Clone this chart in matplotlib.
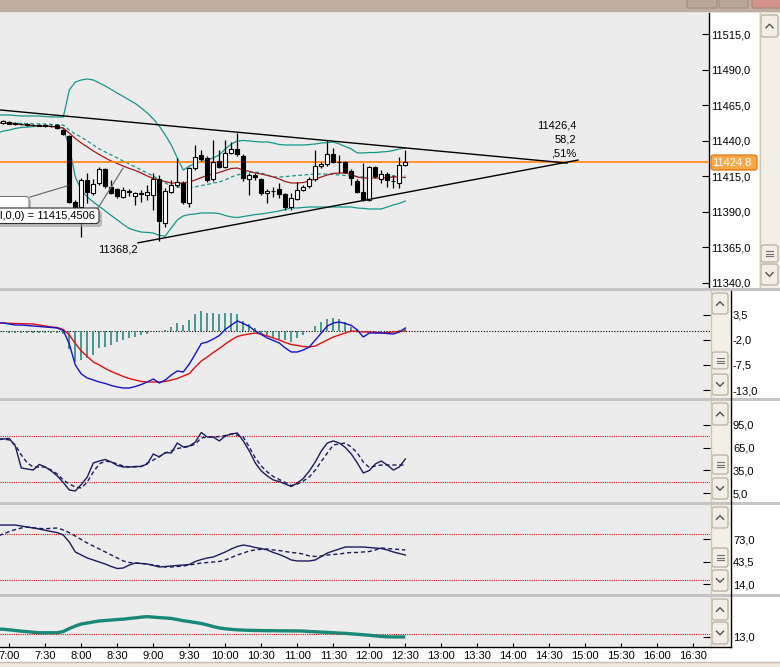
import matplotlib
matplotlib.use("Agg")
import matplotlib.pyplot as plt
from matplotlib.patches import Rectangle, FancyBboxPatch
import numpy as np

plt.rcParams['font.family'] = ['Liberation Sans', 'DejaVu Sans']
FS = 8

# ---------------- data ----------------
# 5-minute bars, minutes after midnight (06:50 ... 12:30)
bar_times = np.arange(410, 751, 5)

open_ = [11452.8, 11452.5, 11453.5, 11452.2, 11451.8, 11451.5, 11451.3, 11451.0, 11450.8, 11450.5, 11451.0,
         11447.5, 11443.3, 11396.9, 11393.4, 11412.4, 11403.3, 11410.3, 11420.1, 11407.5, 11406.1,
         11400.4, 11404.5, 11401.1, 11403.0, 11401.9, 11401.9, 11413.1, 11382.2, 11404.0, 11408.9,
         11410.3, 11396.2, 11420.8, 11430.0, 11427.9, 11413.1, 11425.7, 11421.5, 11431.4, 11434.2,
         11429.3, 11413.1, 11415.9, 11413.1, 11403.3, 11404.9, 11406.1, 11402.6, 11393.4, 11399.0,
         11405.4, 11408.2, 11413.1, 11422.2, 11423.6, 11430.7, 11425.2, 11425.0, 11418.7, 11411.7,
         11404.0, 11398.3, 11421.5, 11413.1, 11416.6, 11411.9, 11410.3, 11422.9]
high = [11454.0, 11454.5, 11454.0, 11453.0, 11452.5, 11452.3, 11452.0, 11451.8, 11451.5, 11451.2, 11451.5,
        11448.5, 11444.0, 11398.0, 11413.5, 11417.3, 11413.1, 11421.5, 11421.0, 11412.4, 11407.0,
        11407.5, 11406.0, 11404.0, 11405.4, 11408.9, 11417.3, 11415.9, 11406.8, 11412.4, 11427.9,
        11411.7, 11421.5, 11437.0, 11433.5, 11429.0, 11440.5, 11433.5, 11440.5, 11439.1, 11445.4,
        11430.5, 11417.0, 11417.0, 11414.0, 11406.0, 11407.5, 11410.3, 11403.5, 11403.3, 11411.0,
        11409.0, 11414.5, 11433.5, 11425.0, 11440.5, 11434.9, 11430.0, 11426.0, 11420.0, 11413.0,
        11424.3, 11422.5, 11422.5, 11419.4, 11418.0, 11415.9, 11428.6, 11433.5]
low = [11452.0, 11451.5, 11451.5, 11451.0, 11451.0, 11450.5, 11450.5, 11450.0, 11449.8, 11449.5, 11448.5,
       11444.0, 11396.5, 11389.0, 11372.3, 11396.2, 11401.9, 11408.9, 11407.0, 11402.5, 11400.0,
       11399.5, 11401.0, 11394.8, 11397.0, 11398.3, 11391.3, 11369.5, 11379.4, 11403.0, 11407.5,
       11395.5, 11393.4, 11419.4, 11426.0, 11411.0, 11412.0, 11420.5, 11420.5, 11430.5, 11429.5,
       11412.0, 11401.9, 11412.5, 11402.0, 11396.2, 11400.4, 11399.7, 11391.3, 11391.3, 11398.0,
       11404.5, 11407.0, 11412.0, 11421.0, 11422.5, 11424.0, 11417.3, 11417.0, 11408.9, 11403.0,
       11397.5, 11397.5, 11414.0, 11410.3, 11407.5, 11406.8, 11406.8, 11422.0]
close = [11453.2, 11454.0, 11452.0, 11451.6, 11451.5, 11451.2, 11451.0, 11450.6, 11450.4, 11450.2, 11448.9,
         11444.7, 11396.9, 11389.9, 11412.4, 11404.0, 11409.6, 11420.1, 11408.2, 11403.3, 11401.1,
         11405.4, 11404.0, 11403.3, 11402.6, 11404.0, 11413.1, 11383.6, 11404.7, 11408.9, 11411.0,
         11396.9, 11420.8, 11428.6, 11427.2, 11412.4, 11425.0, 11421.5, 11431.4, 11434.2, 11430.7,
         11413.8, 11415.9, 11414.5, 11403.3, 11404.7, 11404.5, 11402.6, 11393.4, 11399.7, 11405.4,
         11407.5, 11413.1, 11422.2, 11423.6, 11430.7, 11425.0, 11424.8, 11418.0, 11413.8, 11404.0,
         11398.3, 11421.5, 11415.2, 11416.6, 11412.4, 11411.5, 11422.9, 11424.8]

bb_upper = [11458.1, 11458.1, 11458.1, 11457.7, 11457.4, 11457.4, 11457.4, 11457.4, 11457.0, 11456.7, 11456.7, 11456.7,
            11475.6, 11481.3, 11482.7, 11483.4, 11482.7, 11480.6, 11478.5, 11476.0, 11473.5, 11471.1, 11468.6,
            11466.2, 11463.0, 11459.5, 11455.3, 11450.3, 11444.0, 11437.0, 11427.9, 11419.4, 11422.2, 11424.0,
            11425.4, 11426.4, 11427.9, 11430.0, 11434.2, 11437.7, 11439.8, 11440.2, 11439.8, 11439.4, 11439.1,
            11439.1, 11438.4, 11437.3, 11437.0, 11437.0, 11437.0, 11437.0, 11437.3, 11437.7, 11438.4, 11438.7,
            11439.1, 11437.7, 11435.9, 11434.2, 11431.4, 11431.4, 11431.7, 11431.7, 11432.1, 11432.4, 11433.1,
            11434.2, 11434.9]
bb_middle = [11452.4, 11452.4, 11452.3, 11452.2, 11452.1, 11452.0, 11451.9, 11451.8, 11451.7, 11451.5, 11451.3, 11451.0,
             11447.5, 11444.7, 11442.6, 11439.8, 11437.0, 11434.2, 11432.1, 11430.0, 11427.9, 11425.7, 11423.6,
             11421.5, 11419.4, 11417.3, 11415.2, 11412.4, 11410.3, 11408.2, 11407.5, 11407.1, 11407.1, 11407.5,
             11408.5, 11409.2, 11410.3, 11411.0, 11412.4, 11414.5, 11415.9, 11417.0, 11417.7, 11418.0, 11417.3,
             11415.9, 11414.5, 11414.5, 11414.8, 11415.2, 11415.6, 11415.9, 11416.3, 11416.6, 11416.6, 11416.6,
             11416.3, 11415.9, 11415.6, 11415.2, 11414.8, 11414.5, 11414.5, 11414.5, 11414.8, 11414.8, 11415.2,
             11415.2, 11415.2]
bb_lower = [11445.4, 11446.8, 11447.5, 11448.6, 11449.3, 11449.6, 11450.0, 11450.3, 11450.3, 11450.3, 11449.6, 11448.9,
            11435.6, 11414.5, 11405.4, 11400.4, 11396.9, 11393.8, 11390.6, 11387.4, 11384.3, 11381.1, 11378.3,
            11376.9, 11375.8, 11375.5, 11375.1, 11373.4, 11373.0, 11378.7, 11384.3, 11387.1, 11388.1, 11388.5,
            11389.2, 11389.2, 11389.2, 11388.8, 11387.4, 11386.4, 11386.0, 11386.7, 11387.4, 11388.1, 11388.5,
            11389.2, 11389.9, 11390.6, 11391.7, 11392.7, 11392.7, 11393.1, 11393.4, 11393.4, 11393.4, 11393.4,
            11393.4, 11393.4, 11393.4, 11393.4, 11392.7, 11392.4, 11392.0, 11392.0, 11392.0, 11393.4, 11394.8,
            11395.9, 11397.6]
ema = [11452.8, 11452.5, 11452.1, 11451.7, 11451.4, 11451.0, 11450.7, 11450.3, 11450.3, 11450.0, 11449.6, 11448.9,
       11445.4, 11441.6, 11438.4, 11435.6, 11432.8, 11430.3, 11427.9, 11425.7, 11424.0, 11422.2, 11420.5,
       11419.1, 11417.3, 11415.2, 11413.4, 11412.4, 11411.3, 11410.3, 11410.3, 11410.3, 11411.0, 11412.4,
       11414.1, 11415.6, 11416.6, 11417.7, 11419.1, 11420.5, 11420.8, 11419.4, 11418.4, 11417.3, 11416.6,
       11415.6, 11414.5, 11413.1, 11411.3, 11410.3, 11410.3, 11410.6, 11411.7, 11413.1, 11414.5, 11415.9,
       11417.0, 11417.3, 11417.3, 11416.3, 11414.5, 11413.8, 11413.8, 11413.8, 11413.8, 11414.1, 11414.5,
       11414.5, 11414.1]
last_price = 11424.8

macd = [1.85, 1.74, 1.52, 1.30, 1.30, 1.19, 1.08, 0.97, 0.86, 0.75, 0.64, 0.09,
        -2.88, -7.50, -9.48, -10.36, -10.80, -11.24, -11.57, -12.01, -12.34, -12.56, -12.56,
        -12.23, -11.79, -11.24, -10.58, -11.46, -10.80, -9.70, -8.82, -9.04, -7.28, -5.08,
        -2.77, -2.44, -1.78, -1.01, 0.31, 1.30, 2.18, 1.63, 0.97, -0.02, -0.79,
        -1.56, -2.11, -2.66, -3.76, -4.64, -4.64, -4.20, -3.54, -2.00, -0.46, 1.08,
        1.74, 1.96, 1.63, 1.19, 0.20, -1.34, -0.46, -0.46, -0.46, -0.57, -0.68,
        -0.24, 0.64]
macd_signal = [1.74, 1.74, 1.67, 1.63, 1.59, 1.56, 1.52, 1.30, 1.08, 0.86, 0.75, 0.31,
               -0.90, -2.77, -4.42, -5.63, -6.84, -7.50, -8.27, -8.93, -9.48, -10.03, -10.47,
               -10.80, -11.13, -11.24, -11.24, -11.24, -11.13, -10.80, -10.47, -9.92, -9.37, -7.94,
               -6.62, -5.74, -4.75, -3.87, -2.88, -2.00, -1.23, -0.90, -0.68, -0.46, -0.68,
               -1.12, -1.56, -2.00, -2.55, -2.99, -3.21, -3.43, -3.54, -3.32, -2.66, -2.00,
               -1.34, -0.90, -0.46, -0.02, -0.13, -0.24, -0.24, -0.35, -0.46, -0.35, -0.24,
               -0.13, -0.02]
macd_hist = [-0.3, -0.3, -0.4, -0.4, -0.4, -0.5, -0.4, -0.5, -0.4, -0.4, -0.5, -0.7,
             -4.0, -6.8, -6.4, -5.9, -5.3, -3.7, -3.5, -3.1, -2.4, -2.0, -1.5,
             -1.3, -0.9, -0.7, 0.0, -0.2, 0.1, 0.9, 1.8, 1.3, 2.4, 3.7,
             4.4, 4.0, 4.0, 3.7, 4.0, 4.0, 3.7, 2.2, 1.5, 0.7, -0.4,
             -0.9, -1.3, -1.8, -2.0, -2.4, -1.5, -0.9, 0.0, 1.1, 2.0, 2.6,
             2.9, 2.6, 2.0, 0.9, 0.1, -0.3, -0.2, -0.2, -0.3, -0.4, -0.2,
             0.2, 0.5]

stoch_k = [75.2, 76.5, 77.2, 67.2, 38.2, 36.8, 35.5, 42.8, 39.5, 34.2, 27.6, 19.0,
           9.1, 7.8, 16.4, 26.3, 44.8, 47.4, 49.4, 46.1, 41.5, 39.5, 39.5,
           40.2, 40.2, 43.5, 56.7, 52.7, 58.7, 58.0, 71.2, 65.9, 67.2, 72.5,
           85.1, 79.1, 79.1, 73.9, 80.5, 83.1, 84.4, 73.9, 60.6, 44.8, 34.2,
           27.6, 22.3, 20.3, 17.0, 13.7, 18.3, 24.3, 34.2, 46.1, 60.6, 71.2,
           73.9, 71.2, 65.3, 56.7, 44.8, 31.6, 34.9, 43.5, 47.4, 42.1, 35.5,
           39.5, 50.1]
stoch_d = [76.5, 76.5, 75.2, 68.6, 55.4, 44.8, 39.5, 39.5, 39.5, 35.5, 30.2, 22.3,
           17.0, 13.1, 11.7, 19.7, 32.9, 43.5, 47.4, 46.1, 43.5, 40.8, 39.5,
           39.5, 40.2, 44.8, 48.7, 53.4, 58.0, 60.6, 63.9, 65.3, 66.6, 69.9,
           77.8, 79.1, 79.1, 79.8, 81.1, 83.1, 81.8, 79.1, 65.9, 51.4, 40.8,
           32.9, 26.9, 23.0, 19.0, 15.0, 17.0, 21.0, 26.3, 35.5, 46.8, 58.0,
           68.6, 69.9, 71.2, 65.9, 58.0, 46.1, 38.8, 40.8, 42.1, 42.1, 42.1,
           42.1, 42.1]

rsi = [91.7, 91.7, 91.7, 91.7, 90.4, 89.1, 87.8, 86.5, 84.8, 83.2, 81.7, 78.6,
       69.5, 56.4, 52.4, 48.5, 45.9, 43.2, 40.6, 37.3, 34.7, 35.4, 39.3,
       41.9, 41.3, 40.6, 38.7, 36.7, 37.3, 38.0, 38.7, 39.3, 40.0, 43.9,
       46.5, 48.5, 49.8, 53.1, 56.4, 60.3, 63.6, 65.5, 64.2, 62.2, 60.9,
       59.0, 55.7, 53.1, 49.8, 45.9, 44.6, 44.6, 44.6, 45.9, 50.5, 55.0,
       57.7, 60.3, 62.9, 62.9, 62.9, 62.9, 62.2, 61.6, 60.9, 59.0, 56.4,
       54.4, 52.4]
rsi_signal = [77.3, 79.9, 83.2, 85.8, 87.8, 89.1, 88.2, 87.2, 86.9, 87.4, 87.8, 85.2,
              81.7, 77.3, 72.7, 68.1, 64.2, 60.3, 56.4, 52.4, 48.5, 44.6, 42.6,
              41.9, 41.3, 40.6, 39.3, 38.0, 36.7, 36.7, 37.3, 38.0, 39.3, 40.6,
              41.9, 42.6, 43.2, 43.9, 45.9, 49.1, 52.4, 55.0, 57.7, 59.2, 59.9,
              60.3, 59.0, 58.3, 57.0, 55.7, 55.0, 53.7, 51.1, 50.5, 51.1, 52.4,
              53.1, 53.7, 55.0, 55.7, 55.7, 56.4, 57.0, 59.0, 61.6, 60.9, 60.3,
              59.6, 59.0]

adx = [19.4, 19.2, 18.7, 18.2, 17.6, 17.2, 16.7, 16.3, 16.3, 16.3, 16.3, 17.3,
       19.8, 21.9, 23.6, 24.4, 25.3, 26.1, 26.5, 26.9, 27.3, 27.6, 28.2,
       28.7, 29.3, 29.7, 29.3, 28.9, 28.6, 28.2, 27.3, 26.3, 25.6, 24.8,
       24.0, 22.8, 21.4, 20.3, 19.6, 19.1, 18.7, 18.5, 18.3, 18.2, 18.1,
       18.0, 18.0, 17.9, 17.9, 17.8, 17.8, 17.7, 17.3, 17.1, 16.8, 16.6,
       16.3, 16.0, 15.8, 15.4, 15.0, 14.6, 14.2, 13.7, 13.2, 12.9, 12.8,
       12.8, 12.8]

# trend lines (time in minutes, price)
upper_line_t = [405, 884.75]
upper_line_p = [11462.2, 11424.3]
lower_line_t = [527.25, 893.9]
lower_line_p = [11368.2, 11426.4]
line_labels = ["11426,4", "58,2", ",51%"]
low_label = "11368,2"
ma_label = "l,0,0) = 11415,4506"

price_ticks = [11515, 11490, 11465, 11440, 11415, 11390, 11365, 11340]
macd_ticks = [3.5, -2.0, -7.5, -13.0]
stoch_ticks = [95.0, 65.0, 35.0, 5.0]
rsi_ticks = [73.0, 43.5, 14.0]
adx_ticks = [13.0]
stoch_levels = [80, 20]
rsi_levels = [80, 20]
adx_levels = [15]
time_ticks = list(range(420, 991, 30))
time_labels = ["7:00", "7:30", "8:00", "8:30", "9:00", "9:30", "10:00", "10:30", "11:00", "11:30",
               "12:00", "12:30", "13:00", "13:30", "14:00", "14:30", "15:00", "15:30", "16:00", "16:30"]


def fmt(v):
    return f"{v:.1f}".replace(".", ",")


# ---------------- layout ----------------
W, H = 780, 667
fig = plt.figure(figsize=(W / 100, H / 100), dpi=100, facecolor="white")


def px_axes(x0, y0, x1, y1, z=1):
    a = fig.add_axes([x0 / W, 1 - y1 / H, (x1 - x0) / W, (y1 - y0) / H])
    a.set_zorder(z)
    return a


def t_of(x):
    return 420 + (x - 9.3) / 1.2


PANEL_BG = "#ececec"
TEAL = "#17968a"
NAVY = "#1c1c5e"

bg = px_axes(0, 0, W, H, z=0)
bg.set_xlim(0, W); bg.set_ylim(H, 0); bg.axis("off")

# title bar
bg.add_patch(Rectangle((0, 0), W, 11.5, color="#bfae9f", lw=0))
bg.add_patch(Rectangle((0, 11.5), W, 1.5, color="#e6ddd4", lw=0))
for (bx0, bx1, col) in [(687, 717, "#b9a698"), (719, 748, "#b9a698"), (752, 781, "#d4928a")]:
    bg.add_patch(FancyBboxPatch((bx0, -4), bx1 - bx0, 12, boxstyle="round,pad=0,rounding_size=2",
                                fc=col, ec="#a08e80", lw=0.8))
# bottom strip
bg.add_patch(Rectangle((0, 662), W, 5, color="#efe6dc", lw=0))
bg.plot([0, W], [662, 662], color="#c8bcb0", lw=1)


def scrollbar(x0, x1, y0, y1, buttons):
    bg.add_patch(Rectangle((x0, y0), x1 - x0, y1 - y0, color="#f2efe7", lw=0))
    bg.plot([x0 + 0.5, x0 + 0.5], [y0, y1], color="#cfc6b8", lw=1)
    for (by0, by1, kind) in buttons:
        bg.add_patch(FancyBboxPatch((x0 + 2, by0), x1 - x0 - 4, by1 - by0,
                                    boxstyle="round,pad=0,rounding_size=2.5",
                                    fc="#f1eee6", ec="#b7ae9f", lw=0.9))
        cx, cy = (x0 + x1) / 2, (by0 + by1) / 2
        if kind == "up":
            bg.plot([cx - 3.5, cx, cx + 3.5], [cy + 1.8, cy - 1.8, cy + 1.8], color="#505050", lw=1)
        elif kind == "down":
            bg.plot([cx - 3.5, cx, cx + 3.5], [cy - 1.8, cy + 1.8, cy - 1.8], color="#505050", lw=1)
        else:
            for dy in (-2.5, 0, 2.5):
                bg.plot([cx - 3.5, cx + 3.5], [cy + dy, cy + dy], color="#707070", lw=0.8)


scrollbar(759, 780, 13, 288, [(15, 37, "up"), (245, 262, "menu"), (264, 285, "down")])
scrollbar(710, 730, 291, 398, [(293, 314, "up"), (352, 369, "menu"), (374, 395, "down")])
scrollbar(710, 730, 401, 502, [(403, 425, "up"), (455, 474, "menu"), (478, 499, "down")])
scrollbar(710, 730, 505, 594, [(507, 528, "up"), (548, 567, "menu"), (570, 591, "down")])
scrollbar(710, 730, 597, 647, [(599, 620, "up"), (622, 644, "down")])

# ---------------- main price panel ----------------
axm = px_axes(0, 13, 709, 287.5)
axm.set_facecolor(PANEL_BG)
axm.set_xlim(t_of(0), t_of(709))
axm.set_ylim(11336.8, 11529.8)

axm.plot(bar_times, bb_upper, color=TEAL, lw=0.9, zorder=2)
axm.plot(bar_times, bb_lower, color=TEAL, lw=0.9, zorder=2)
axm.plot(bar_times, bb_middle, color=TEAL, lw=0.9, ls=(0, (3, 2)), zorder=2)
axm.plot(bar_times, ema, color="#a81818", lw=0.9, zorder=2)
axm.axhline(last_price, color="#ff8a1e", lw=1.3, zorder=3)

o = np.array(open_); c = np.array(close); hi = np.array(high); lo = np.array(low)
up = c >= o
axm.vlines(bar_times, lo, hi, color="black", lw=0.9, zorder=4)
axm.bar(bar_times, np.maximum(np.abs(c - o), 0.4), bottom=np.minimum(o, c), width=3.4,
        color=np.where(up, "white", "black"), edgecolor="black", linewidth=0.8, zorder=5)

axm.plot(upper_line_t, upper_line_p, color="black", lw=1.0, zorder=6)
axm.plot(lower_line_t, lower_line_p, color="black", lw=1.0, zorder=6)
for k, txt in enumerate(line_labels):
    axm.text(892.8, [11450.6, 11441.0, 11431.2][k], txt, ha="right", va="center", fontsize=FS, zorder=7)
axm.text(510.6, 11363.2, low_label, ha="center", va="center", fontsize=FS, zorder=7)
# annotation connectors
axm.plot([437.25, 468.1], [11400.4, 11408.2], color="#707070", lw=0.9, zorder=6)
axm.plot([494.0, 514.8], [11392.7, 11420.8], color="#707070", lw=0.9, zorder=6)

axm.set_yticks(price_ticks)
axm.set_yticklabels([fmt(v) for v in price_ticks])
axm.yaxis.tick_right()
axm.tick_params(axis="y", direction="in", length=5, width=0.8, pad=1.5, labelsize=FS)
axm.set_xticks([])
for s in ["left", "top", "bottom"]:
    axm.spines[s].set_visible(False)
axm.spines["right"].set_linewidth(1.0)


def lower_panel(y0, y1, ylim, ticks):
    a = px_axes(0, y0, 710, y1)
    a.set_facecolor(PANEL_BG)
    a.set_xlim(t_of(0), t_of(710))
    a.set_ylim(*ylim)
    for s in a.spines.values():
        s.set_visible(False)
    a.set_yticks(ticks)
    a.set_yticklabels([fmt(v) for v in ticks])
    a.yaxis.tick_right()
    a.tick_params(axis="y", direction="in", length=5, width=0.8, pad=16.5, labelsize=FS)
    a.set_xticks([])
    return a


# MACD
ax1 = lower_panel(290.5, 398, (-14.76, 8.89), macd_ticks)
ax1.axhline(0, color="black", lw=0.8, ls=(0, (1, 1.5)), zorder=1)
ax1.vlines(bar_times, 0, macd_hist, color="#1a8076", lw=1.1, zorder=2)
ax1.plot(bar_times, macd_signal, color="#e01010", lw=1.0, zorder=3)
ax1.plot(bar_times, macd, color="#1414c8", lw=1.0, zorder=4)

# Stochastic
ax2 = lower_panel(401, 502, (-6.76, 126.7), stoch_ticks)
for lv in stoch_levels:
    ax2.axhline(lv, color="#d81010", lw=0.8, ls=(0, (1, 1)), zorder=1)
ax2.plot(bar_times, stoch_d, color=NAVY, lw=1.0, ls=(0, (3, 2)), zorder=2)
ax2.plot(bar_times, stoch_k, color=NAVY, lw=1.0, zorder=3)

# RSI-type oscillator
ax3 = lower_panel(505, 594, (1.29, 117.97), rsi_ticks)
for lv in rsi_levels:
    ax3.axhline(lv, color="#d81010", lw=0.8, ls=(0, (1, 1)), zorder=1)
ax3.plot(bar_times, rsi_signal, color=NAVY, lw=1.0, ls=(0, (3, 2)), zorder=2)
ax3.plot(bar_times, rsi, color=NAVY, lw=1.0, zorder=3)

# ADX
ax4 = lower_panel(597, 646.5, (4.83, 46.08), adx_ticks)
for lv in adx_levels:
    ax4.axhline(lv, color="#d81010", lw=0.8, ls=(0, (1, 1)), zorder=1)
ax4.plot(bar_times, adx, color="#1a8878", lw=2.4, zorder=3, solid_capstyle="butt")
ax4.set_xticks(time_ticks)
ax4.set_xticklabels(time_labels)
ax4.tick_params(axis="x", direction="in", length=3, width=0.8, pad=3, labelsize=FS)

# ---------------- overlay ----------------
ov = px_axes(0, 0, W, H, z=10)
ov.set_xlim(0, W); ov.set_ylim(H, 0); ov.axis("off")

# panel separators
for (sy0, sy1) in [(287.5, 290.5), (398, 401), (502, 505), (594, 597)]:
    ov.add_patch(Rectangle((0, sy0), W, sy1 - sy0, color="#c4c4c4", lw=0))
# axis lines of the lower section
ov.plot([730.5, 730.5], [290.5, 647], color="black", lw=1)
ov.plot([0, 731], [646.5, 646.5], color="black", lw=1)

# price label box
ov.add_patch(FancyBboxPatch((711, 155), 46, 15, boxstyle="round,pad=0,rounding_size=2.5",
                            fc="#f8a848", ec="#e07818", lw=0.9))
ov.text(712.5, 162.8, fmt(last_price), color="white", fontsize=FS, ha="left", va="center")

# study value boxes (left edge)
ov.add_patch(FancyBboxPatch((-2, 199), 33, 20, boxstyle="round,pad=0,rounding_size=3",
                            fc="#9a9a9a", ec="none", alpha=0.6))
ov.add_patch(FancyBboxPatch((-6, 196.5), 35, 20, boxstyle="round,pad=0,rounding_size=3",
                            fc="white", ec="#7a7a7a", lw=0.8))
ov.add_patch(FancyBboxPatch((-2, 211), 104, 16, boxstyle="round,pad=0,rounding_size=3",
                            fc="#9a9a9a", ec="none", alpha=0.6))
ov.add_patch(FancyBboxPatch((-6, 208), 105, 15.5, boxstyle="round,pad=0,rounding_size=3",
                            fc="white", ec="#303030", lw=0.8))
ov.text(0, 216, ma_label, fontsize=FS, ha="left", va="center", color="black")

fig.savefig("out.png", dpi=100, facecolor="white")
